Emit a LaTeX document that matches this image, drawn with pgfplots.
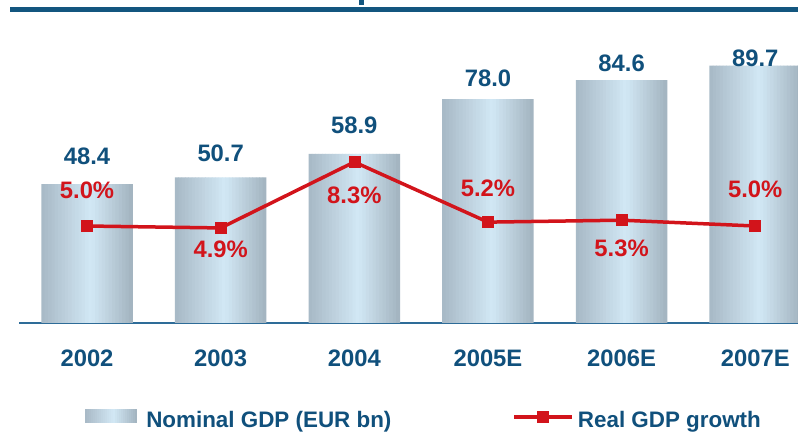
\documentclass[border=0pt]{standalone}
\usepackage{fontspec}
\setmainfont{Liberation Sans}
\usepackage{pgfplots}
\usepackage{pgfplotstable}
\pgfplotsset{compat=1.18}
\definecolor{txtblue}{HTML}{10507C}
\definecolor{titleblue}{HTML}{13567F}
\definecolor{axisblue}{HTML}{2E6C98}
\definecolor{gdpred}{HTML}{D2141B}
\definecolor{barL}{HTML}{A7B8C5}
\definecolor{barM}{HTML}{D2E8F5}
\definecolor{barR}{HTML}{A2B3BF}
\newcommand{\lblfont}{\fontsize{23.8bp}{28bp}\selectfont\bfseries}
\newcommand{\legfont}{\fontsize{22.4bp}{26bp}\selectfont\bfseries}
\pgfplotstableread{
x y
0 48.4
1 50.7
2 58.9
3 78.0
4 84.6
5 89.7
}\bardata
\pgfplotstableread{
x y
0 5.0
1 4.9
2 8.3
3 5.2
4 5.3
5 5.0
}\growthdata
\pgfplotsset{
  mylinelegend/.style={legend image code/.code={\draw[mark repeat=2, mark phase=2, ##1, yshift=3.5bp] plot coordinates {(0bp,0bp) (29bp,0bp) (58bp,0bp)};}},
  mybarlegend/.style={legend image code/.code={%
    \foreach \k in {0,...,25}{%
      \pgfmathsetmacro\tt{(\k+0.5)/26}%
      \pgfmathsetmacro\pp{ifthenelse(\tt<0.55, 100*\tt/0.55, 100*(1-\tt)/0.45)}%
      \ifdim\tt pt<0.55pt \def\ec{barL}\else\def\ec{barR}\fi
      \pgfmathsetmacro\xa{\k*2}%
      \pgfmathsetmacro\xb{\k*2+2.3}%
      \path[fill=barM!\pp!\ec, draw=none] (\xa bp,-2.5bp) rectangle (\xb bp,11.5bp);%
    }}},
}
\begin{document}
\begin{tikzpicture}
\useasboundingbox (0,0) rectangle (798bp,434bp);
\fill[white] (0,0) rectangle (798bp,434bp);
\fill[titleblue] (10bp,422bp) rectangle (798bp,427bp);
\fill[titleblue] (359bp,429bp) rectangle (364bp,434bp);
\begin{axis}[
  at={(19bp,111bp)}, anchor=south west,
  scale only axis, width=779bp, height=303bp,
  xmin=-0.509, xmax=5.32, ymin=0, ymax=105.57,
  axis x line*=bottom, axis y line=none,
  x axis line style={draw=axisblue, line width=2bp, -},
  xtick={0,1,2,3,4,5}, xticklabels={2002,2003,2004,2005E,2006E,2007E},
  major tick length=0pt, ytick=\empty,
  xticklabel style={font=\lblfont, text=txtblue, anchor=north, inner sep=0pt, yshift=-27bp},
]
\pgfplotsforeachungrouped \i in {0,...,26}{%
  \pgfmathsetmacro\t{(\i+0.5)/27}%
  \pgfmathsetmacro\p{ifthenelse(\t<0.55, 100*\t/0.55, 100*(1-\t)/0.45)}%
  \pgfmathsetmacro\s{-0.3405 + (\i+0.5)*0.681/27}%
  \pgfmathsetmacro\w{0.681/27+0.004}%
  \ifdim\t pt<0.55pt \def\edgecol{barL}\else\def\edgecol{barR}\fi
  \edef\doplot{\noexpand\addplot[ybar, draw=none, bar width=\w, bar shift=\s, fill=barM!\p!\edgecol, forget plot] table[x=x, y=y] {\noexpand\bardata};}%
  \doplot
}
\addplot[draw=none, mark=none, nodes near coords, point meta=explicit symbolic,
  every node near coord/.append style={anchor=center, inner sep=0pt, font=\lblfont, text=txtblue}]
  table[meta=label] {
x y label
0 58.2 48.4
1 59.1 50.7
2 69.0 58.9
3 85.4 78.0
4 90.4 84.6
5 92.3 89.7
};
\end{axis}
\begin{axis}[
  at={(19bp,111bp)}, anchor=south west,
  scale only axis, width=779bp, height=303bp,
  xmin=-0.509, xmax=5.32, ymin=0, ymax=15.62,
  hide axis, clip=false,
  legend columns=2,
  legend style={at={(axis description cs:0.0847,-0.3168)}, anchor=west,
    draw=none, fill=none, inner sep=0pt, outer sep=0pt,
    font=\legfont, text=txtblue,
    nodes={inner sep=0pt},
    /tikz/column 1/.style={column sep=9bp},
    /tikz/column 2/.style={column sep=121bp},
    /tikz/column 3/.style={column sep=4bp}},
]
\addlegendimage{mybarlegend}
\addlegendentry{Nominal GDP (EUR bn)}
\addplot[gdpred, line width=3.5bp, mark=square*, mark size=5.5bp,
  mark options={line width=0.5bp, solid}, mylinelegend]
  table[x=x, y=y] {\growthdata};
\addlegendentry{Real GDP growth}
\addplot[draw=none, mark=none, nodes near coords, point meta=explicit symbolic,
  every node near coord/.append style={anchor=center, inner sep=0pt, font=\lblfont, text=gdpred}]
  table[meta=label] {
x y label
0 6.86 5.0\%
1 3.81 4.9\%
2 6.60 8.3\%
3 6.96 5.2\%
4 3.87 5.3\%
5 6.88 5.0\%
};
\end{axis}
\end{tikzpicture}
\end{document}
